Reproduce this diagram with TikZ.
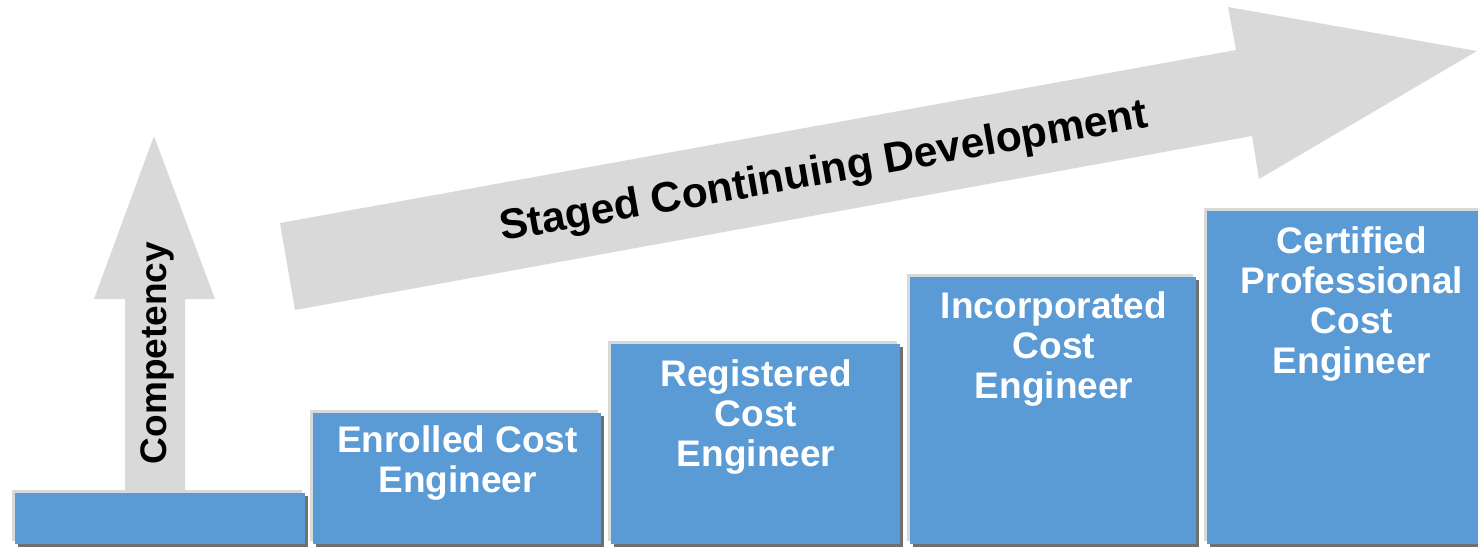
\documentclass[tikz,border=0pt]{standalone}
\usepackage{fontspec}
\setmainfont{Liberation Sans}
\usetikzlibrary{shadows}
\definecolor{boxblue}{HTML}{5B9BD5}
\definecolor{arrowgrey}{HTML}{D9D9D9}
\definecolor{rimgrey}{HTML}{D9D9D9}
\definecolor{shadowgrey}{HTML}{707070}
\tikzset{
  stagebox/.style={rectangle, fill=boxblue, draw=none, inner sep=0pt, anchor=north west,
    general shadow={shadow xshift=3pt, shadow yshift=-3pt, fill=shadowgrey},
    general shadow={shadow xshift=-3pt, shadow yshift=3pt, fill=rimgrey}},
  stagetext/.style={anchor=north, inner sep=0pt, align=center, text=white,
    font=\bfseries\fontsize{37}{40.3}\selectfont},
  bigarrow/.style={fill=arrowgrey, draw=none},
  arrowtext/.style={font=\bfseries\fontsize{37}{41}\selectfont, text=black, inner sep=0pt}
}
\begin{document}
\begin{tikzpicture}[x=1pt, y=-1pt]
\useasboundingbox (0,0) rectangle (1478,547);
% vertical competency arrow
\fill[arrowgrey] (125,490) -- (185,490) -- (185,299) -- (215,299) -- (154,136) -- (94,299) -- (125,299) -- cycle;
\node[arrowtext, rotate=90, anchor=base] (comp) at (166,353) {Competency};
% big staged arrow
\fill[arrowgrey] (280,223) -- (1236,50) -- (1228,7) -- (1477,51) -- (1259,179) -- (1252,136) -- (295,310) -- cycle;
\node[arrowtext, font=\bfseries\fontsize{42.5}{46}\selectfont, rotate=10, anchor=base] (scd) at (826,184) {Staged Continuing Development};
% stage boxes
\node[stagebox, minimum width=290pt, minimum height=51pt] (b0) at (15,493) {};
\node[stagebox, minimum width=288pt, minimum height=131pt] (b1) at (313,413) {};
\node[stagebox, minimum width=289pt, minimum height=200pt] (b2) at (611,344) {};
\node[stagebox, minimum width=286pt, minimum height=267pt] (b3) at (910,277) {};
\node[stagebox, minimum width=293pt, minimum height=333pt] (b4) at (1207,211) {};
% stage texts
\node[stagetext] (t1) at (457.5,425) {Enrolled Cost\\Engineer};
\node[stagetext] (t2) at (756,359) {Registered\\Cost\\Engineer};
\node[stagetext] (t3) at (1054,291) {Incorporated\\Cost\\Engineer};
\node[stagetext] (t4) at (1352,226) {Certified\\Professional\\Cost\\Engineer};
\end{tikzpicture}
\end{document}
